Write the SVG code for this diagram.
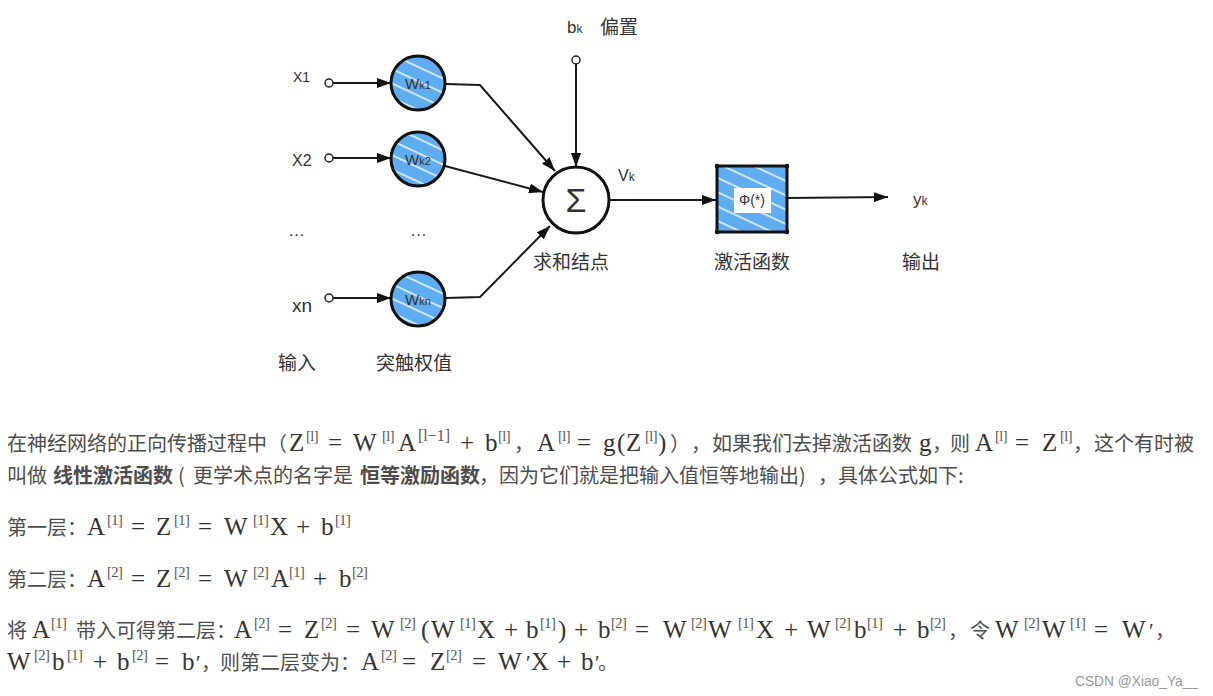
<svg xmlns="http://www.w3.org/2000/svg" width="1213" height="696" viewBox="0 0 1213 696">
<style>
.cn{font-family:'Noto Sans CJK SC','Noto Sans',sans-serif;font-size:20px;fill:#4d4d4d}
.b{font-weight:bold}
.m{font-family:'Liberation Serif','Times New Roman',serif;font-size:25px;fill:#333}
.s{font-family:'Liberation Serif','Times New Roman',serif;font-size:14.5px;letter-spacing:-0.5px;fill:#555}
.p{font-family:'Liberation Serif',serif;font-size:21px;fill:#333}
.lbl{font-family:'Noto Sans CJK SC',sans-serif;font-size:19px;fill:#333}
.sans{font-family:'Liberation Sans',Arial,sans-serif;fill:#333}
.edge{fill:none;stroke:#1a1a1a;stroke-width:2}
.arr{marker-end:url(#ah)}
.node{fill:url(#hatch);stroke:#111;stroke-width:3}
.term{fill:#fff;stroke:#222;stroke-width:1.5}
</style>
<defs>
<pattern id="hatch" patternUnits="userSpaceOnUse" width="13" height="13" patternTransform="rotate(25)">
<rect width="13" height="13" fill="#5fadf0"/>
<rect y="0" width="13" height="1.8" fill="#ffffff" opacity="0.75"/>
</pattern>
<marker id="ah" markerUnits="userSpaceOnUse" markerWidth="14" markerHeight="10" refX="14" refY="5" orient="auto">
<path d="M0,0 L14,5 L0,10 z" fill="#111"/>
</marker>
</defs>
<rect width="1213" height="696" fill="#fff"/>

<g id="connectors">
<line class="edge arr" x1="333" y1="83" x2="391" y2="83"/>
<line class="edge arr" x1="333" y1="158" x2="391" y2="158"/>
<line class="edge arr" x1="333" y1="298" x2="391" y2="298"/>
<polyline class="edge arr" points="446,84 480,85 555,171"/>
<line class="edge arr" x1="445" y1="166" x2="543" y2="192"/>
<polyline class="edge arr" points="446,298 480,297 550,226"/>
<line class="edge arr" x1="576" y1="64" x2="576" y2="167"/>
<line class="edge arr" x1="609" y1="200" x2="716" y2="200"/>
<line class="edge arr" x1="787" y1="198" x2="888" y2="197"/>
</g>

<g id="in-x1">
<circle class="term" cx="329" cy="83" r="4"/>
<text class="sans" x="293" y="82" font-size="14">X1</text>
</g>
<g id="in-x2">
<circle class="term" cx="329" cy="158" r="4"/>
<text class="sans" x="292" y="166" font-size="16">X2</text>
</g>
<g id="in-dots">
<text class="sans" x="288" y="236" font-size="17">…</text>
<text class="sans" x="410" y="236" font-size="17">…</text>
</g>
<g id="in-xn">
<circle class="term" cx="329" cy="298" r="4"/>
<text class="sans" x="292" y="312" font-size="19">xn</text>
</g>

<g id="w-k1">
<circle class="node" cx="418" cy="83" r="27"/>
<text class="sans" x="418" y="89" text-anchor="middle" font-size="15" fill="#222">W<tspan font-size="11">k1</tspan></text>
</g>
<g id="w-k2">
<circle class="node" cx="418" cy="159" r="27"/>
<text class="sans" x="418" y="165" text-anchor="middle" font-size="15" fill="#222">W<tspan font-size="11">k2</tspan></text>
</g>
<g id="w-kn">
<circle class="node" cx="418" cy="299" r="27"/>
<text class="sans" x="418" y="305" text-anchor="middle" font-size="15" fill="#222">W<tspan font-size="11">kn</tspan></text>
</g>

<g id="bias">
<circle class="term" cx="576" cy="60" r="4"/>
<text class="sans" x="567" y="33" font-size="17">b<tspan font-size="12">k</tspan></text>
<text class="lbl" x="600" y="34">偏置</text>
</g>

<g id="sum">
<circle cx="576" cy="200" r="33" fill="#fff" stroke="#111" stroke-width="3"/>
<text class="sans" x="576" y="212" text-anchor="middle" font-size="34" fill="#222">Σ</text>
<text class="sans" x="618" y="181" font-size="16">V<tspan font-size="12">k</tspan></text>
<text class="lbl" x="571" y="269" text-anchor="middle">求和结点</text>
</g>

<g id="activation">
<rect class="node" x="717" y="166" width="70" height="66"/>
<circle cx="717" cy="166" r="2.2" fill="#111"/><circle cx="787" cy="166" r="2.2" fill="#111"/>
<circle cx="717" cy="232" r="2.2" fill="#111"/><circle cx="787" cy="232" r="2.2" fill="#111"/>
<rect x="734" y="188" width="37" height="25" fill="#fff"/>
<text class="sans" x="752" y="205" text-anchor="middle" font-size="14" fill="#222">Φ(*)</text>
<text class="lbl" x="752" y="269" text-anchor="middle">激活函数</text>
</g>

<g id="output">
<text class="sans" x="913" y="205" font-size="17">y<tspan font-size="12">k</tspan></text>
<text class="lbl" x="921" y="269" text-anchor="middle">输出</text>
</g>

<g id="labels-bottom">
<text class="lbl" x="297" y="370" text-anchor="middle">输入</text>
<text class="lbl" x="414" y="370" text-anchor="middle">突触权值</text>
</g>

<g id="text-body">
<text>
<tspan class="cn" x="7" y="451">在神经网络的正向传播过程中</tspan>
<tspan class="cn" x="267" y="451">（</tspan>
<tspan class="m" x="289" y="451">Z</tspan><tspan class="s" x="306" y="441">[l]</tspan>
<tspan class="m" x="328" y="451">=</tspan>
<tspan class="m" x="353" y="451">W</tspan><tspan class="s" x="382" y="441">[l]</tspan>
<tspan class="m" x="398" y="451">A</tspan><tspan class="s" x="418" y="441" style="font-size:16px;letter-spacing:0">[l−1]</tspan>
<tspan class="m" x="460" y="451">+</tspan>
<tspan class="m" x="485" y="451">b</tspan><tspan class="s" x="498" y="441">[l]</tspan>
<tspan class="cn" x="514" y="451">，</tspan>
<tspan class="m" x="537" y="451">A</tspan><tspan class="s" x="558" y="441">[l]</tspan>
<tspan class="m" x="577" y="451">=</tspan>
<tspan class="m" x="603" y="451">g</tspan><tspan class="m" x="617" y="451">(</tspan>
<tspan class="m" x="626" y="451">Z</tspan><tspan class="s" x="645" y="441">[l]</tspan>
<tspan class="m" x="658" y="451">)</tspan>
<tspan class="cn" x="670" y="451">）</tspan>
<tspan class="cn" x="691" y="451">，</tspan>
<tspan class="cn" x="712" y="451">如果我们去掉激活函数</tspan>
<tspan class="m" x="919" y="451">g</tspan>
<tspan class="cn" x="932" y="451">，</tspan>
<tspan class="cn" x="950" y="451">则</tspan>
<tspan class="m" x="975" y="451">A</tspan><tspan class="s" x="995" y="441">[l]</tspan>
<tspan class="m" x="1015" y="451">=</tspan>
<tspan class="m" x="1042" y="451">Z</tspan><tspan class="s" x="1060" y="441">[l]</tspan>
<tspan class="cn" x="1073" y="451">，</tspan>
<tspan class="cn" x="1094" y="451">这个有时被</tspan>
</text>
<text>
<tspan class="cn" x="7" y="483">叫做</tspan>
<tspan class="cn b" x="53" y="483">线性激活函数</tspan>
<tspan class="cn" x="178" y="483">(</tspan>
<tspan class="cn" x="193" y="483">更学术点的名字是</tspan>
<tspan class="cn b" x="360" y="483">恒等激励函数</tspan>
<tspan class="cn" x="479" y="483">，</tspan>
<tspan class="cn" x="499" y="483">因为它们就是把输入值恒等地输出</tspan>
<tspan class="cn" x="799" y="483">)</tspan>
<tspan class="cn" x="818" y="483">，</tspan>
<tspan class="cn" x="838" y="483">具体公式如下</tspan>
<tspan class="cn" x="958" y="483">:</tspan>
</text>
<text>
<tspan class="cn" x="7" y="535">第一层：</tspan>
<tspan class="m" x="87" y="535">A</tspan><tspan class="s" x="107" y="525">[1]</tspan>
<tspan class="m" x="131" y="535">=</tspan>
<tspan class="m" x="156" y="535">Z</tspan><tspan class="s" x="174" y="525">[1]</tspan>
<tspan class="m" x="198" y="535">=</tspan>
<tspan class="m" x="224" y="535">W</tspan><tspan class="s" x="253" y="525">[1]</tspan>
<tspan class="m" x="270" y="535">X</tspan>
<tspan class="m" x="296" y="535">+</tspan>
<tspan class="m" x="321" y="535">b</tspan><tspan class="s" x="335" y="525">[1]</tspan>
</text>
<text>
<tspan class="cn" x="7" y="587">第二层：</tspan>
<tspan class="m" x="87" y="587">A</tspan><tspan class="s" x="107" y="577">[2]</tspan>
<tspan class="m" x="131" y="587">=</tspan>
<tspan class="m" x="156" y="587">Z</tspan><tspan class="s" x="174" y="577">[2]</tspan>
<tspan class="m" x="198" y="587">=</tspan>
<tspan class="m" x="224" y="587">W</tspan><tspan class="s" x="253" y="577">[2]</tspan>
<tspan class="m" x="271" y="587">A</tspan><tspan class="s" x="289" y="577">[1]</tspan>
<tspan class="m" x="313" y="587">+</tspan>
<tspan class="m" x="339" y="587">b</tspan><tspan class="s" x="352" y="577">[2]</tspan>
</text>
<text>
<tspan class="cn" x="7" y="638">将</tspan>
<tspan class="m" x="32" y="638">A</tspan><tspan class="s" x="51" y="628">[1]</tspan>
<tspan class="cn" x="76" y="638">带入可得第二层：</tspan>
<tspan class="m" x="234" y="638">A</tspan><tspan class="s" x="254" y="628">[2]</tspan>
<tspan class="m" x="278" y="638">=</tspan>
<tspan class="m" x="304" y="638">Z</tspan><tspan class="s" x="321" y="628">[2]</tspan>
<tspan class="m" x="346" y="638">=</tspan>
<tspan class="m" x="371" y="638">W</tspan><tspan class="s" x="400" y="628">[2]</tspan>
<tspan class="m" x="421" y="638">(</tspan>
<tspan class="m" x="431" y="638">W</tspan><tspan class="s" x="460" y="628">[1]</tspan>
<tspan class="m" x="477" y="638">X</tspan>
<tspan class="m" x="504" y="638">+</tspan>
<tspan class="m" x="526" y="638">b</tspan><tspan class="s" x="540" y="628">[1]</tspan>
<tspan class="m" x="558" y="638">)</tspan>
<tspan class="m" x="574" y="638">+</tspan>
<tspan class="m" x="598" y="638">b</tspan><tspan class="s" x="611" y="628">[2]</tspan>
<tspan class="m" x="635" y="638">=</tspan>
<tspan class="m" x="663" y="638">W</tspan><tspan class="s" x="691" y="628">[2]</tspan>
<tspan class="m" x="708" y="638">W</tspan><tspan class="s" x="738" y="628">[1]</tspan>
<tspan class="m" x="756" y="638">X</tspan>
<tspan class="m" x="784" y="638">+</tspan>
<tspan class="m" x="807" y="638">W</tspan><tspan class="s" x="835" y="628">[2]</tspan>
<tspan class="m" x="854" y="638">b</tspan><tspan class="s" x="867" y="628">[1]</tspan>
<tspan class="m" x="893" y="638">+</tspan>
<tspan class="m" x="917" y="638">b</tspan><tspan class="s" x="930" y="628">[2]</tspan>
<tspan class="cn" x="948" y="638">，</tspan>
<tspan class="cn" x="970" y="638">令</tspan>
<tspan class="m" x="995" y="638">W</tspan><tspan class="s" x="1024" y="628">[2]</tspan>
<tspan class="m" x="1042" y="638">W</tspan><tspan class="s" x="1070" y="628">[1]</tspan>
<tspan class="m" x="1094" y="638">=</tspan>
<tspan class="m" x="1122" y="638">W</tspan><tspan class="p" x="1149" y="638">′</tspan>
<tspan class="cn" x="1155" y="638">，</tspan>
</text>
<text>
<tspan class="m" x="7" y="670">W</tspan><tspan class="s" x="34" y="660">[2]</tspan>
<tspan class="m" x="52" y="670">b</tspan><tspan class="s" x="67" y="660">[1]</tspan>
<tspan class="m" x="93" y="670">+</tspan>
<tspan class="m" x="117" y="670">b</tspan><tspan class="s" x="132" y="660">[2]</tspan>
<tspan class="m" x="155" y="670">=</tspan>
<tspan class="m" x="182" y="670">b</tspan><tspan class="p" x="196" y="670">′</tspan>
<tspan class="cn" x="201" y="670">，</tspan>
<tspan class="cn" x="220" y="670">则第二层变为：</tspan>
<tspan class="m" x="361" y="670">A</tspan><tspan class="s" x="381" y="660">[2]</tspan>
<tspan class="m" x="402" y="670">=</tspan>
<tspan class="m" x="430" y="670">Z</tspan><tspan class="s" x="446" y="660">[2]</tspan>
<tspan class="m" x="472" y="670">=</tspan>
<tspan class="m" x="498" y="670">W</tspan><tspan class="p" x="526" y="670">′</tspan>
<tspan class="m" x="531" y="670">X</tspan>
<tspan class="m" x="557" y="670">+</tspan>
<tspan class="m" x="581" y="670">b</tspan><tspan class="p" x="595" y="670">′</tspan>
<tspan class="cn" x="598" y="670">。</tspan>
</text>
</g>

<g id="watermark">
<text x="1075" y="686" font-family="'Liberation Sans',Arial,sans-serif" font-size="14" fill="#999" textLength="123" lengthAdjust="spacingAndGlyphs">CSDN @Xiao_Ya__</text>
</g>
</svg>
